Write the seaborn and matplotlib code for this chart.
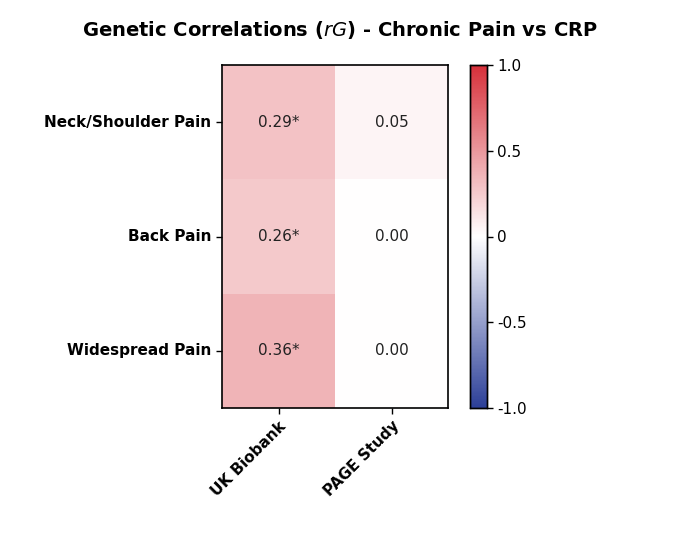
import numpy as np
import pandas as pd
import seaborn as sns
import matplotlib.pyplot as plt
from matplotlib.colors import LinearSegmentedColormap

# Data
traits = ['Neck/Shoulder Pain', 'Back Pain', 'Widespread Pain']
studies = ['UK Biobank', 'PAGE Study']
rg = [[0.29, 0.05], [0.26, 0.00], [0.36, 0.00]]
labels = [['0.29*', '0.05'], ['0.26*', '0.00'], ['0.36*', '0.00']]

df = pd.DataFrame(rg, index=traits, columns=studies)
annot = np.array(labels)

cmap = LinearSegmentedColormap.from_list('bwr_custom', ['#2c3f98', '#ffffff', '#d6303a'])

fig = plt.figure(figsize=(6.8, 5.46), dpi=100)
ax = fig.add_axes([222/680, 1-408/546, 226/680, 343/546])
cax = fig.add_axes([470/680, 1-408/546, 17/680, 343/546])

sns.heatmap(df, ax=ax, cbar_ax=cax, cmap=cmap, vmin=-1, vmax=1,
            annot=annot, fmt='', annot_kws={'size': 11, 'color': '#222222'})

for s in ax.spines.values():
    s.set_visible(True)
    s.set_linewidth(1.2)
ax.tick_params(axis='both', length=4, width=1, direction='out')
ax.set_yticklabels(traits, rotation=0, fontsize=11, fontweight='bold')
ax.set_xticklabels(studies, rotation=45, ha='right', rotation_mode='anchor',
                   fontsize=11, fontweight='bold')
ax.set_xlabel('')
ax.set_ylabel('')

cax.set_yticks([-1, -0.5, 0, 0.5, 1])
cax.set_yticklabels(['-1.0', '-0.5', '0', '0.5', '1.0'], fontsize=11)
cax.tick_params(length=4, width=1)
for s in cax.spines.values():
    s.set_visible(True)
    s.set_linewidth(1)

fig.text(340/680, 1-30/546, 'Genetic Correlations ($\\it{rG}$) - Chronic Pain vs CRP',
         ha='center', va='center', fontsize=14, fontweight='bold')

fig.savefig('out.png', dpi=100)
